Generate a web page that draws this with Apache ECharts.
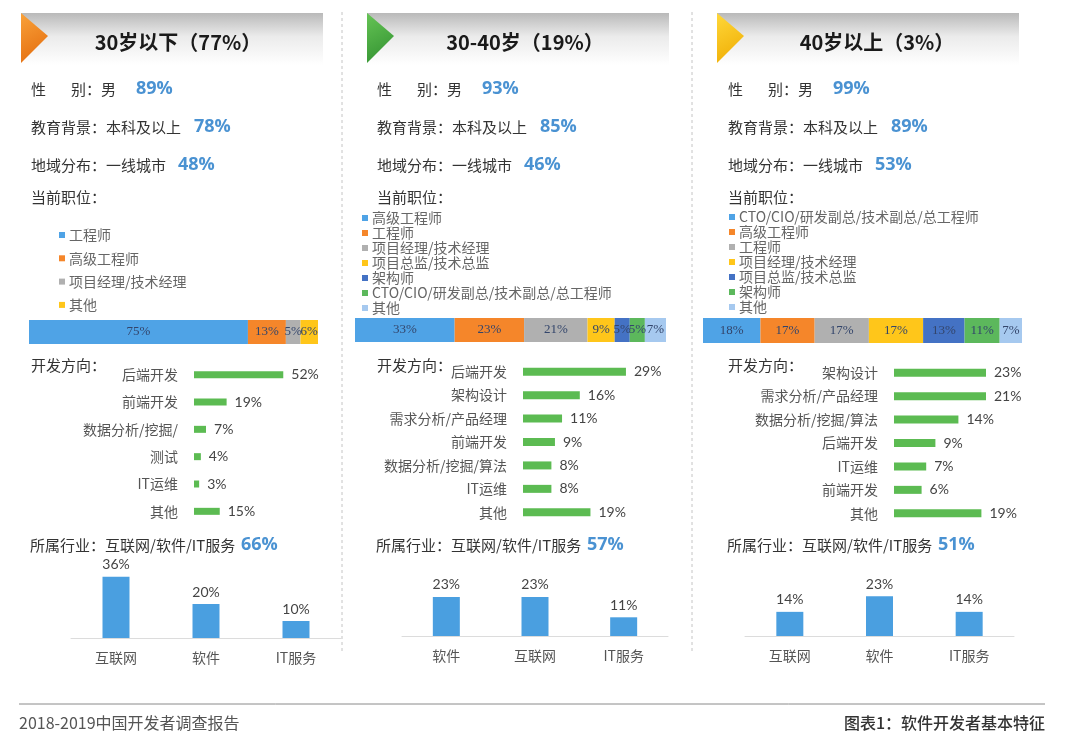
<!DOCTYPE html>
<html>
<head>
<meta charset="utf-8">
<title>软件开发者基本特征</title>
<script src="https://cdn.jsdelivr.net/npm/echarts@6/dist/echarts.min.js"></script>
<style>
  html, body { margin: 0; padding: 0; background: #fff; }
  #chart { width: 1080px; height: 749px; }
</style>
</head>
<body>
<div id="chart"></div>
<script>
////////////////////
// data
////////////////////
var groupTitles = ['30岁以下（77%）', '30-40岁（19%）', '40岁以上（3%）'];
var maleShare = ['89%', '93%', '99%'];
var eduShare = ['78%', '85%', '89%'];
var cityShare = ['48%', '46%', '53%'];
var industryShare = ['66%', '57%', '51%'];

var roleNames1 = ['工程师', '高级工程师', '项目经理/技术经理', '其他'];
var roleValues1 = [75, 13, 5, 6];
var roleNames2 = ['高级工程师', '工程师', '项目经理/技术经理', '项目总监/技术总监', '架构师', 'CTO/CIO/研发副总/技术副总/总工程师', '其他'];
var roleValues2 = [33, 23, 21, 9, 5, 5, 7];
var roleNames3 = ['CTO/CIO/研发副总/技术副总/总工程师', '高级工程师', '工程师', '项目经理/技术经理', '项目总监/技术总监', '架构师', '其他'];
var roleValues3 = [18, 17, 17, 17, 13, 11, 7];

var devNames1 = ['后端开发', '前端开发', '数据分析/挖掘/', '测试', 'IT运维', '其他'];
var devValues1 = [52, 19, 7, 4, 3, 15];
var devNames2 = ['后端开发', '架构设计', '需求分析/产品经理', '前端开发', '数据分析/挖掘/算法', 'IT运维', '其他'];
var devValues2 = [29, 16, 11, 9, 8, 8, 19];
var devNames3 = ['架构设计', '需求分析/产品经理', '数据分析/挖掘/算法', '后端开发', 'IT运维', '前端开发', '其他'];
var devValues3 = [23, 21, 14, 9, 7, 6, 19];

var indNames1 = ['互联网', '软件', 'IT服务'];
var indValues1 = [36, 20, 10];
var indNames2 = ['软件', '互联网', 'IT服务'];
var indValues2 = [23, 23, 11];
var indNames3 = ['互联网', '软件', 'IT服务'];
var indValues3 = [14, 23, 14];

////////////////////
// layout / style
////////////////////
var CJK = '"Noto Sans CJK SC", sans-serif';
var roleColors = ['#4fa3e6', '#f5862a', '#b0b0b0', '#ffc61a', '#4472c4', '#5cb85c', '#a6c9ef'];
var devColor = '#5cbb52';
var indColor = '#4a9fe0';
var valueBlue = '#4a92d2';

var panels = [
  { headX: 21, titleX: 178, textX: 31, tri: ['#f9a23a', '#e2680a'],
    legX: 62, legY: 235, legGap: 23.3, legFont: 14,
    roles: roleNames1, roleVals: roleValues1,
    stack: { left: 29, top: 320, width: 289, height: 24 },
    devNames: devNames1, devVals: devValues1,
    dev: { left: 194, top: 361, width: 103, height: 164, max: 60 }, devBar: 7,
    indNames: indNames1, indVals: indValues1,
    ind: { left: 71, top: 570, width: 270, height: 68 } },
  { headX: 367, titleX: 525, textX: 377, tri: ['#66c455', '#2f8f2f'],
    legX: 365, legY: 218, legGap: 15, legFont: 14,
    roles: roleNames2, roleVals: roleValues2,
    stack: { left: 355, top: 318, width: 311, height: 24 },
    devNames: devNames2, devVals: devValues2,
    dev: { left: 523, top: 360, width: 106.5, height: 164, max: 30 }, devBar: 8,
    indNames: indNames2, indVals: indValues2,
    ind: { left: 402, top: 568, width: 266, height: 68 } },
  { headX: 717, titleX: 877, textX: 728, tri: ['#ffd83a', '#eeaa00'],
    legX: 732, legY: 217, legGap: 15, legFont: 14,
    roles: roleNames3, roleVals: roleValues3,
    stack: { left: 703, top: 318, width: 319, height: 25 },
    devNames: devNames3, devVals: devValues3,
    dev: { left: 894, top: 361, width: 92, height: 164, max: 20 }, devBar: 8,
    indNames: indNames3, indVals: indValues3,
    ind: { left: 745, top: 567, width: 269, height: 69 } }
];

function sum(arr) {
  var s = 0;
  for (var i = 0; i < arr.length; i++) s += arr[i];
  return s;
}

function txt(x, y, text, font, fill, align) {
  return {
    type: 'text', silent: true,
    style: { x: x, y: y, text: text, font: font, fill: fill,
             textAlign: align || 'left', textVerticalAlign: 'middle' }
  };
}

var grids = [], xAxes = [], yAxes = [], series = [], graphics = [];

panels.forEach(function (p, i) {
  // header
  graphics.push({
    type: 'rect', silent: true,
    shape: { x: p.headX, y: 13, width: 302, height: 52 },
    style: { fill: new echarts.graphic.LinearGradient(0, 0, 0, 1, [
      { offset: 0, color: '#b9b9b9' },
      { offset: 0.45, color: '#ebebeb' },
      { offset: 1, color: '#ffffff' }
    ]) }
  });
  graphics.push({
    type: 'polygon', silent: true,
    shape: { points: [[p.headX, 13], [p.headX + 27, 36], [p.headX, 63]] },
    style: { fill: new echarts.graphic.LinearGradient(0, 0, 1, 1, [
      { offset: 0, color: p.tri[0] }, { offset: 1, color: p.tri[1] }
    ]) }
  });
  graphics.push(txt(p.titleX, 42, groupTitles[i], 'bold 20px ' + CJK, '#1a1a1a', 'center'));

  // profile rows
  var tf = '15px ' + CJK;
  graphics.push(txt(p.textX, 89, '性', tf, '#333'));
  graphics.push(txt(p.textX + 40, 89, '别：男', tf, '#333'));
  graphics.push(txt(p.textX + 105, 89, maleShare[i], 'bold 18px "Open Sans"', valueBlue));
  graphics.push(txt(p.textX, 127, '教育背景：本科及以上', tf, '#333'));
  graphics.push(txt(p.textX + 163, 127, eduShare[i], 'bold 18px "Open Sans"', valueBlue));
  graphics.push(txt(p.textX, 165, '地域分布：一线城市', tf, '#333'));
  graphics.push(txt(p.textX + 147, 165, cityShare[i], 'bold 18px "Open Sans"', valueBlue));
  graphics.push(txt(p.textX, 197, '当前职位：', tf, '#333'));
  graphics.push(txt(p.textX, 365, '开发方向：', tf, '#333'));
  graphics.push(txt(p.textX - 1, 545, '所属行业：互联网/软件/IT服务', tf, '#333'));
  graphics.push(txt(p.textX + 210, 545, industryShare[i], 'bold 18px "Open Sans"', valueBlue));

  // role legend
  p.roles.forEach(function (name, k) {
    var y = p.legY + k * p.legGap;
    graphics.push({ type: 'rect', silent: true,
      shape: { x: p.legX - 3, y: y - 3, width: 6, height: 6 },
      style: { fill: roleColors[k] } });
    graphics.push(txt(p.legX + 7, y, name, p.legFont + 'px ' + CJK, '#666'));
  });

  // stacked role bar
  var g0 = grids.length;
  grids.push({ left: p.stack.left, top: p.stack.top, width: p.stack.width, height: p.stack.height });
  xAxes.push({ gridIndex: g0, type: 'value', min: 0, max: sum(p.roleVals), show: false });
  yAxes.push({ gridIndex: g0, type: 'category', data: ['职位'], show: false });
  p.roles.forEach(function (name, k) {
    series.push({
      type: 'bar', name: name, stack: 'role' + i,
      xAxisIndex: g0, yAxisIndex: g0, barWidth: '100%',
      data: [p.roleVals[k]],
      itemStyle: { color: roleColors[k] },
      label: { show: true, position: 'inside', formatter: '{c}%',
               fontFamily: '"Liberation Serif"', fontSize: 13, color: '#33456b' }
    });
  });

  // development direction
  var g1 = grids.length;
  grids.push(p.dev);
  xAxes.push({ gridIndex: g1, type: 'value', min: 0, max: p.dev.max, show: false, splitLine: { show: false } });
  yAxes.push({ gridIndex: g1, type: 'category', inverse: true, data: p.devNames,
    axisLine: { show: false }, axisTick: { show: false },
    axisLabel: { margin: 16, fontSize: 14, color: '#555', fontFamily: CJK } });
  series.push({
    type: 'bar', xAxisIndex: g1, yAxisIndex: g1, data: p.devVals,
    barWidth: p.devBar, clip: true,
    itemStyle: { color: devColor },
    label: { show: true, position: 'right', distance: 8, formatter: '{c}%',
             fontFamily: 'Lato', fontSize: 14, color: '#444' }
  });

  // industry
  var g2 = grids.length;
  grids.push(p.ind);
  xAxes.push({ gridIndex: g2, type: 'category', data: p.indNames,
    axisLine: { lineStyle: { color: '#dcdcdc' } }, axisTick: { show: false },
    axisLabel: { margin: 13, fontSize: 14, color: '#555', fontFamily: CJK } });
  yAxes.push({ gridIndex: g2, type: 'value', min: 0, max: 40, show: false, splitLine: { show: false } });
  series.push({
    type: 'bar', xAxisIndex: g2, yAxisIndex: g2, data: p.indVals,
    barWidth: 27,
    itemStyle: { color: indColor },
    label: { show: true, position: 'top', distance: 5, formatter: '{c}%',
             fontFamily: 'Lato', fontSize: 14, color: '#444' }
  });
});

// dashed separators
[342, 692].forEach(function (x) {
  graphics.push({ type: 'line', silent: true,
    shape: { x1: x, y1: 12, x2: x, y2: 652 },
    style: { stroke: '#c4c4c4', lineWidth: 1, lineDash: [3, 3] } });
});

// footer
graphics.push({ type: 'line', silent: true,
  shape: { x1: 19, y1: 704, x2: 1045, y2: 704 },
  style: { stroke: '#8a8a8a', lineWidth: 1 } });
graphics.push(txt(19, 723, '2018-2019中国开发者调查报告', '16px ' + CJK, '#555'));
graphics.push(txt(1045, 723, '图表1：软件开发者基本特征', '500 16px ' + CJK, '#333', 'right'));

var mychart = echarts.init(document.getElementById('chart'));
var chart_option = {
  backgroundColor: '#fff',
  animation: false,
  grid: grids,
  xAxis: xAxes,
  yAxis: yAxes,
  series: series,
  graphic: graphics
};
mychart.setOption(chart_option);
</script>
</body>
</html>
